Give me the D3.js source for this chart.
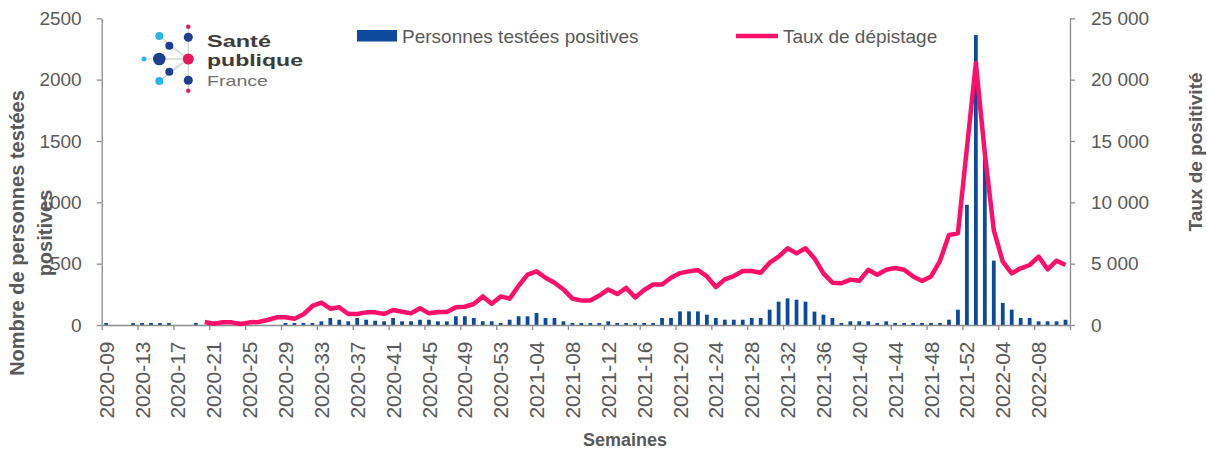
<!DOCTYPE html>
<html>
<head>
<meta charset="utf-8">
<script src="https://cdn.jsdelivr.net/npm/d3@7"></script>
<style>
  body { margin: 0; background: #fff; }
  text { font-family: "Liberation Sans", Arial, sans-serif; }
</style>
</head>
<body>
<svg id="chart" width="1207" height="450"></svg>
<script>
/* global d3 */

// semaines : [année, première semaine, dernière semaine]
var plagesSemaines = [[2020, 9, 53], [2021, 1, 52], [2022, 1, 11]];

// Personnes testées positives (axe gauche)
var positifs = [
  16, 0, 0, 16, 16, 16, 16, 16, 0, 0,
  16, 0, 0, 0, 0, 0, 0, 0, 0, 0,
  16, 16, 16, 16, 30, 57, 43, 30, 57, 43,
  35, 30, 57, 30, 30, 43, 43, 30, 30, 71,
  71, 57, 30, 30, 16, 43, 71, 71, 98, 57,
  57, 30, 16, 16, 16, 16, 30, 16, 16, 16,
  16, 16, 57, 57, 111, 111, 111, 84, 57, 43,
  43, 43, 57, 57, 125, 190, 217, 206, 190, 109,
  84, 57, 16, 30, 30, 30, 16, 30, 16, 16,
  16, 16, 16, 16, 43, 125, 980, 2363, 1400, 525,
  180, 125, 57, 57, 30, 30, 30, 43
];

// Taux de dépistage (axe droit), pas de valeur avant 2020-20
var taux = [
  null, null, null, null, null, null, null, null, null, null, null,
  245, 106, 217, 217, 81, 217, 245, 407, 625,
  625, 516, 870, 1550, 1820, 1330, 1440, 900, 900, 1030,
  1030, 900, 1220, 1085, 950, 1360, 950, 1060, 1060, 1440,
  1490, 1710, 2330, 1730, 2330, 2150, 3200, 4100, 4370, 3850,
  3450, 2900, 2150, 2000, 2000, 2400, 2900, 2520, 3020, 2250,
  2850, 3300, 3300, 3850, 4230, 4370, 4480, 3960, 3100, 3720,
  3990, 4400, 4400, 4260, 5080, 5570, 6250, 5840, 6250, 5430,
  4210, 3450, 3400, 3700, 3600, 4500, 4100, 4500, 4650, 4500,
  3960, 3590, 3960, 5230, 7330, 7470, 14400, 21330, 14000, 7740,
  5160, 4210, 4620, 4890, 5570, 4540, 5240, 4890
];

var ticksGauche = [0, 500, 1000, 1500, 2000, 2500];
var ticksDroite = [0, 5000, 10000, 15000, 20000, 25000];

var semaines = [];
plagesSemaines.forEach(function (p) {
  for (var w = p[1]; w <= p[2]; w++) semaines.push(p[0] + "-" + (w < 10 ? "0" + w : w));
});

var svg = d3.select("#chart");
var gris = "#595959", axeCouleur = "#8c8c8c";
var bleu = "#0b4a9c", rose = "#ff0f69";

var gauche = 101.7, droite = 1070, haut = 18.3, bas = 325;

var x = d3.scaleBand().domain(semaines).range([gauche, droite]).paddingInner(0.58).paddingOuter(0.29);
var xb = d3.scaleLinear().domain([0, semaines.length]).range([gauche, droite]);   // bords des catégories
var yG = d3.scaleLinear().domain([0, 2500]).range([bas, haut]);
var yD = d3.scaleLinear().domain([0, 25000]).range([bas, haut]);

var fr = d3.formatLocale({decimal: ",", thousands: "\u00a0", grouping: [3], currency: ["", " €"]});

// barres
svg.append("g").selectAll("rect")
  .data(positifs)
  .join("rect")
  .attr("x", function (d, i) { return x(semaines[i]); })
  .attr("width", x.bandwidth())
  .attr("y", function (d) { return yG(d); })
  .attr("height", function (d) { return bas - yG(d); })
  .attr("fill", bleu);

// axe gauche
var axeG = svg.append("g").attr("transform", "translate(" + gauche + ",0)")
  .call(d3.axisLeft(yG).tickValues(ticksGauche).tickSize(5).tickPadding(15).tickSizeOuter(0)
    .tickFormat(d3.format("d")));
// axe droit
var axeD = svg.append("g").attr("transform", "translate(" + droite + ",0)")
  .call(d3.axisRight(yD).tickValues(ticksDroite).tickSize(5).tickPadding(16).tickSizeOuter(0)
    .tickFormat(fr.format(",d")));
// axe x : graduations entre catégories
var axeX = svg.append("g").attr("transform", "translate(0," + bas + ")")
  .call(d3.axisBottom(xb).tickValues(d3.range(0, semaines.length + 1, 4)).tickSize(5).tickFormat("").tickSizeOuter(0));
// étiquettes de semaines
var etiquettes = svg.append("g").attr("transform", "translate(0," + bas + ")")
  .call(d3.axisBottom(x).tickValues(semaines.filter(function (d, i) { return i % 4 === 0; })).tickSize(0));
etiquettes.select(".domain").remove();
etiquettes.selectAll("text")
  .attr("transform", "rotate(-90)")
  .attr("text-anchor", "end")
  .attr("x", -16.5).attr("y", 0).attr("dy", "0.36em")
  .style("font-size", "21px").attr("fill", gris);

[axeG, axeD, axeX].forEach(function (g) {
  g.selectAll(".domain, line").attr("stroke", axeCouleur).attr("stroke-width", 1.3);
  g.selectAll("text").style("font-size", "19px").attr("fill", gris);
});

// courbe du taux
var ligne = d3.line()
  .defined(function (d) { return d != null; })
  .x(function (d, i) { return x(semaines[i]) + x.bandwidth() / 2; })
  .y(function (d) { return yD(d); });
svg.append("path").datum(taux)
  .attr("d", ligne)
  .attr("fill", "none")
  .attr("stroke", rose)
  .attr("stroke-width", 4.5)
  .attr("stroke-linejoin", "round");

// légende
svg.append("rect").attr("x", 357).attr("y", 30).attr("width", 40).attr("height", 11.5).attr("fill", bleu);
svg.append("text").attr("x", 402).attr("y", 42.5).style("font-size", "19px").attr("fill", gris)
  .text("Personnes testées positives");
svg.append("line").attr("x1", 736).attr("x2", 778).attr("y1", 36).attr("y2", 36)
  .attr("stroke", rose).attr("stroke-width", 4.5);
svg.append("text").attr("x", 783).attr("y", 42.5).style("font-size", "19px").attr("fill", gris)
  .text("Taux de dépistage");

// titres d'axes
svg.append("text").attr("x", 625).attr("y", 446).attr("text-anchor", "middle")
  .style("font-size", "18px").style("font-weight", "bold").attr("fill", gris).text("Semaines");
svg.append("text").attr("transform", "translate(1202,152) rotate(-90)").attr("text-anchor", "middle")
  .style("font-size", "19px").style("font-weight", "bold").attr("fill", gris).text("Taux de positivité");
var titreG = svg.append("text").attr("transform", "translate(0,233) rotate(-90)").attr("text-anchor", "middle")
  .style("font-size", "20px").style("font-weight", "bold").attr("fill", gris);
titreG.append("tspan").attr("x", 0).attr("y", 24).text("Nombre de personnes testées");
titreG.append("tspan").attr("x", 0).attr("y", 52).text("positives");

// logo Santé publique France
var logo = svg.append("g");
var centre = [188.3, 59];
var noeuds = [
  [188.3, 26.7, 2.2, "#e6195c"], [159.3, 36, 4, "#29b4e8"], [188.3, 37.3, 4.5, "#1d3f8f"],
  [169.3, 45.7, 4, "#1d3f8f"], [144, 59, 2.5, "#29b4e8"], [159.3, 59, 6.3, "#1d3f8f"],
  [169.3, 71.7, 4, "#1d3f8f"], [159.3, 81, 4, "#29b4e8"], [188.3, 80.3, 4.5, "#1d3f8f"],
  [188.3, 90.7, 2.2, "#e6195c"]
];
logo.selectAll("line").data(noeuds).join("line")
  .attr("x1", centre[0]).attr("y1", centre[1])
  .attr("x2", function (d) { return d[0]; }).attr("y2", function (d) { return d[1]; })
  .attr("stroke", "#d9d9d9").attr("stroke-width", 1.2);
logo.selectAll("circle").data(noeuds).join("circle")
  .attr("cx", function (d) { return d[0]; }).attr("cy", function (d) { return d[1]; })
  .attr("r", function (d) { return d[2]; }).attr("fill", function (d) { return d[3]; });
logo.append("circle").attr("cx", centre[0]).attr("cy", centre[1]).attr("r", 5.5).attr("fill", "#e6195c");
logo.append("text").attr("x", 207).attr("y", 47).attr("textLength", 64).attr("lengthAdjust", "spacingAndGlyphs")
  .style("font-size", "16.5px").style("font-weight", "bold").attr("fill", "#3c3c3c").text("Santé");
logo.append("text").attr("x", 207).attr("y", 65.5).attr("textLength", 96).attr("lengthAdjust", "spacingAndGlyphs")
  .style("font-size", "16.5px").style("font-weight", "bold").attr("fill", "#3c3c3c").text("publique");
logo.append("text").attr("x", 207).attr("y", 85.5).attr("textLength", 61).attr("lengthAdjust", "spacingAndGlyphs")
  .style("font-size", "15px").attr("fill", "#707070").text("France");
</script>
</body>
</html>
